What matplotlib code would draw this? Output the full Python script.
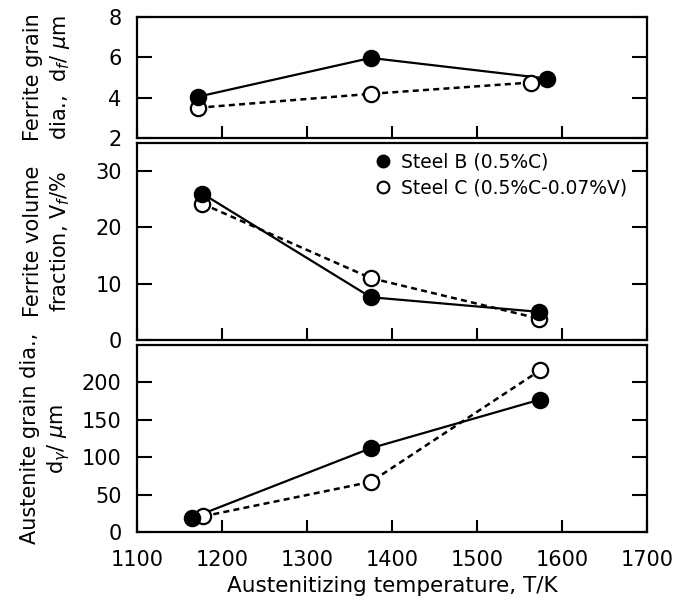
import numpy as np
import matplotlib
matplotlib.use("Agg")
import matplotlib.pyplot as plt
from matplotlib.lines import Line2D

plt.rcParams['font.family'] = ['DejaVu Sans']
plt.rcParams['mathtext.fontset'] = 'dejavusans'

# ---- data ----
# ferrite grain diameter, um
df_T_B = [1172, 1375, 1582]
df_B = [4.05, 5.97, 4.95]
df_T_C = [1172, 1375, 1563]
df_C = [3.5, 4.19, 4.75]

# ferrite volume fraction, %
vf_T_B = [1177, 1375, 1573]
vf_B = [26.0, 7.6, 5.0]
vf_T_C = [1177, 1375, 1573]
vf_C = [24.2, 11.0, 3.8]

# austenite grain diameter, um
dg_T_B = [1165, 1375, 1574]
dg_B = [19, 112, 177]
dg_T_C = [1178, 1375, 1574]
dg_C = [21, 67, 216]

label_B = 'Steel B (0.5%C)'
label_C = 'Steel C (0.5%C-0.07%V)'

fig = plt.figure(figsize=(6.92, 6.00), dpi=100)
L, R = 137 / 692, 647 / 692
def box(top_px, bot_px):
    return [L, 1 - bot_px / 600, R - L, (bot_px - top_px) / 600]

ax1 = fig.add_axes(box(17, 138))
ax2 = fig.add_axes(box(143, 340))
ax3 = fig.add_axes(box(345, 532))

fs = 15
ms = 11

def draw(ax, tb, yb, tc, yc, label_y):
    ax.plot(tb, yb, '-', color='black', lw=1.6, zorder=2)
    ax.plot(tc, yc, color='black', lw=1.8, ls=(0, (2.4, 1.7)), zorder=2)
    ax.plot(tc, yc, 'o', ms=ms, mfc='white', mec='black', mew=1.6, ls='none', zorder=3)
    ax.plot(tb, yb, 'o', ms=ms, mfc='black', mec='black', mew=1.6, ls='none', zorder=4)
    ax.set_xlim(1100, 1700)
    ax.set_xticks([1100, 1200, 1300, 1400, 1500, 1600, 1700])
    ax.tick_params(axis='both', direction='in', labelsize=fs, width=1.5,
                   right=True, top=False)
    ax.tick_params(axis='y', length=11, pad=11)
    ax.tick_params(axis='x', length=9, pad=13)
    for s in ax.spines.values():
        s.set_linewidth(1.6)
    # x is the right-hand edge of the two-line label
    ax.yaxis.set_label_coords(-0.127, label_y)

draw(ax1, df_T_B, df_B, df_T_C, df_C, 0.48)
ax1.set_ylim(2, 8)
ax1.set_yticks([2, 4, 6, 8])
ax1.set_ylabel('Ferrite grain\ndia.,  d$_{f}$/ $\\mu$m', fontsize=fs, linespacing=1.3)

draw(ax2, vf_T_B, vf_B, vf_T_C, vf_C, 0.42)
ax2.set_ylim(0, 35)
ax2.set_yticks([0, 10, 20, 30])
ax2.set_ylabel('Ferrite volume\nfraction, V$_{f}$/%', fontsize=fs, linespacing=1.3)

draw(ax3, dg_T_B, dg_B, dg_T_C, dg_C, 0.42)
ax3.set_ylim(0, 250)
ax3.set_yticks([0, 50, 100, 150, 200])
ax3.set_ylabel('Austenite grain dia.,\nd$_{\\gamma}$/ $\\mu$m', fontsize=fs, linespacing=1.3)
ax3.set_xlabel('Austenitizing temperature, T/K', fontsize=15.5, labelpad=4)

for ax in (ax1, ax2):
    ax.tick_params(axis='x', labelbottom=False)

handles = [Line2D([], [], marker='o', ls='none', ms=8.5, mfc='black', mec='black', mew=1.5),
           Line2D([], [], marker='o', ls='none', ms=8.5, mfc='white', mec='black', mew=1.5)]
ax2.legend(handles, [label_B, label_C], loc='upper left', bbox_to_anchor=(0.464, 0.95),
           frameon=False, fontsize=13.5, handlelength=1.0, handletextpad=0.46,
           borderpad=0, labelspacing=0.36, borderaxespad=0)

fig.savefig('out.png', dpi=100)
